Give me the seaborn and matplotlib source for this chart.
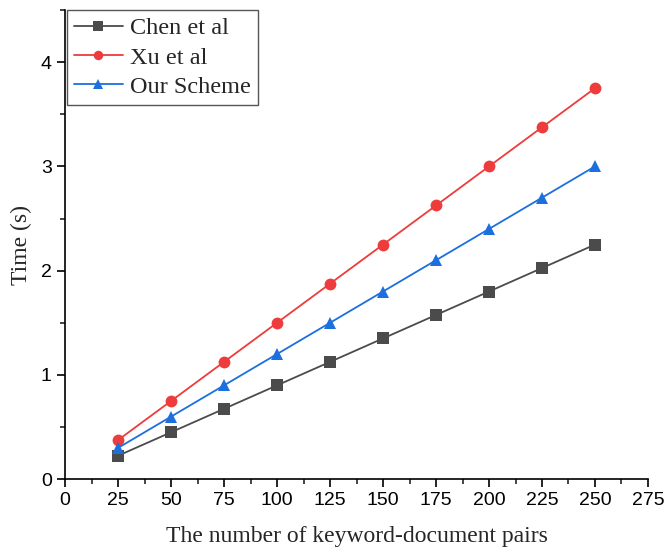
import matplotlib
matplotlib.use("Agg")
import matplotlib.pyplot as plt
import seaborn as sns
import pandas as pd
from matplotlib.ticker import MultipleLocator

pairs = [25, 50, 75, 100, 125, 150, 175, 200, 225, 250]
chen = [0.225, 0.45, 0.675, 0.9, 1.125, 1.35, 1.575, 1.8, 2.025, 2.25]
xu = [0.375, 0.75, 1.125, 1.5, 1.875, 2.25, 2.625, 3.0, 3.375, 3.75]
ours = [0.3, 0.6, 0.9, 1.2, 1.5, 1.8, 2.1, 2.4, 2.7, 3.0]
series_names = ["Chen et al", "Xu et al", "Our Scheme"]

df = pd.DataFrame({
    "x": pairs * 3,
    "y": chen + xu + ours,
    "scheme": [series_names[0]] * len(pairs) + [series_names[1]] * len(pairs) + [series_names[2]] * len(pairs),
})

sns.set_style("ticks")
plt.rcParams["font.family"] = ["Liberation Sans", "DejaVu Sans"]

fig = plt.figure(figsize=(6.67, 5.54), dpi=100)
ax = fig.add_axes([0.0975, 0.135, 0.874, 0.847])

palette = {"Chen et al": "#4b4b4b", "Xu et al": "#ee3b3b", "Our Scheme": "#1c6fde"}
markers = {"Chen et al": "s", "Xu et al": "o", "Our Scheme": "^"}
sns.lineplot(data=df, x="x", y="y", hue="scheme", style="scheme", palette=palette,
             markers=markers, dashes=False, markersize=8.5, markeredgewidth=0,
             linewidth=1.3, ax=ax)

ax.set_xlim(0, 275)
ax.set_ylim(0, 4.5)
ax.xaxis.set_major_locator(MultipleLocator(25))
ax.xaxis.set_minor_locator(MultipleLocator(12.5))
ax.yaxis.set_major_locator(MultipleLocator(1))
ax.yaxis.set_minor_locator(MultipleLocator(0.5))
ax.tick_params(which="major", direction="out", length=6, width=1.2, labelsize=14, colors="black")
ax.tick_params(which="minor", direction="out", length=3.5, width=1.2)
for s in ["top", "right"]:
    ax.spines[s].set_visible(False)
for s in ["left", "bottom"]:
    ax.spines[s].set_linewidth(1.2)
    ax.spines[s].set_color("black")

ax.set_xlabel("The number of keyword-document pairs", family=["Liberation Serif"], fontsize=17, labelpad=12)
ax.set_ylabel("Time (s)", family=["Liberation Serif"], fontsize=17, labelpad=6)

leg = ax.legend(loc="upper left", bbox_to_anchor=(0.003, 1.0), borderaxespad=0.0,
                prop={"family": "Liberation Serif", "size": 17.5},
                frameon=True, fancybox=False, edgecolor="#555555", framealpha=1,
                handlelength=2.0, labelspacing=0.3, borderpad=0.3,
                handletextpad=0.3, markerscale=0.8)
leg.get_frame().set_linewidth(1.0)

fig.savefig("out.png", dpi=100)
